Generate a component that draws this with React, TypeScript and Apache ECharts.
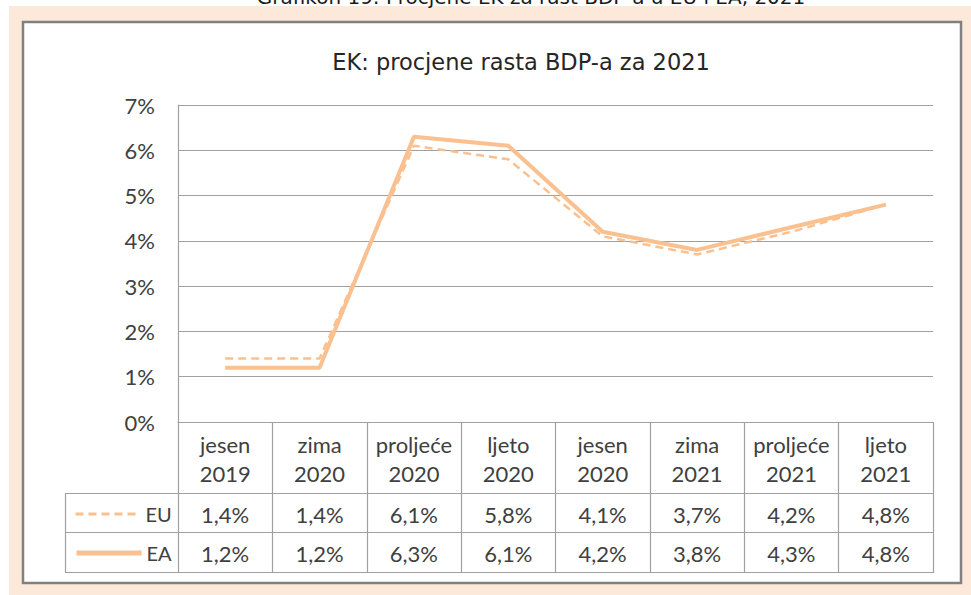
import React, { useEffect, useRef } from "react";
import * as echarts from "echarts";

const categories = [
  "jesen\n2019",
  "zima\n2020",
  "proljeće\n2020",
  "ljeto\n2020",
  "jesen\n2020",
  "zima\n2021",
  "proljeće\n2021",
  "ljeto\n2021",
];
const euValues = [1.4, 1.4, 6.1, 5.8, 4.1, 3.7, 4.2, 4.8];
const eaValues = [1.2, 1.2, 6.3, 6.1, 4.2, 3.8, 4.3, 4.8];
const seriesNames = ["EU", "EA"];
const chartTitle = "EK: procjene rasta BDP-a za 2021";
const figureTitle = "Grafikon 19: Procjene EK za rast BDP-a u EU i EA, 2021";

const fmt = (v: number) => v.toFixed(1).replace(".", ",") + "%";

const LINE = "#FAC090";
const GRID = "#A0A0A0";
const TXT = "#404040";
const FONT = "Lato";

export default function App() {
  const ref = useRef<HTMLDivElement>(null);
  useEffect(() => {
    if (!ref.current) return;
    const chart = echarts.init(ref.current, null, { renderer: "svg" });
    const tableLine = (x1: number, y1: number, x2: number, y2: number) => ({
      type: "line",
      z: -1,
      shape: { x1, y1, x2, y2 },
      style: { stroke: GRID, lineWidth: 1.2 },
    });
    const legendBase = {
      left: 74,
      padding: 0,
      itemWidth: 65,
      itemHeight: 20,
      itemStyle: { opacity: 0 },
      textStyle: { fontFamily: FONT, fontSize: 20, lineHeight: 20, color: TXT },
    };
    chart.setOption({
      animation: false,
      backgroundColor: "#ffffff",
      title: {
        text: chartTitle,
        left: 516,
        top: 45,
        textAlign: "center",
        textStyle: {
          fontFamily: "DejaVu Sans",
          fontSize: 22.5,
          fontWeight: "normal",
          color: "#262626",
        },
      },
      legend: [
        {
          ...legendBase,
          data: [seriesNames[0]],
          top: 504,
          lineStyle: { width: 3, type: [8, 5], color: LINE },
        },
        {
          ...legendBase,
          data: [seriesNames[1]],
          top: 543,
          lineStyle: { width: 5, color: LINE },
        },
      ],
      grid: { left: 178, right: 38, top: 105, bottom: 173 },
      xAxis: [
        {
          type: "category",
          data: categories,
          boundaryGap: true,
          axisLine: { show: true, lineStyle: { color: GRID, width: 1.2 } },
          axisTick: {
            show: true,
            interval: 0,
            length: 151,
            lineStyle: { color: GRID, width: 1.2 },
          },
          axisLabel: {
            interval: 0,
            margin: 8,
            fontFamily: FONT,
            fontSize: 22,
            lineHeight: 29,
            color: TXT,
          },
        },
        {
          type: "category",
          data: categories,
          position: "bottom",
          offset: 71,
          axisLine: { show: false },
          axisTick: { show: false },
          axisLabel: {
            interval: 0,
            margin: 10,
            fontFamily: FONT,
            fontSize: 22,
            lineHeight: 22,
            color: TXT,
            formatter: (_v: string, i: number) => fmt(euValues[i]),
          },
        },
        {
          type: "category",
          data: categories,
          position: "bottom",
          offset: 110,
          axisLine: { show: false },
          axisTick: { show: false },
          axisLabel: {
            interval: 0,
            margin: 10,
            fontFamily: FONT,
            fontSize: 22,
            lineHeight: 22,
            color: TXT,
            formatter: (_v: string, i: number) => fmt(eaValues[i]),
          },
        },
      ],
      yAxis: {
        type: "value",
        min: 0,
        max: 7,
        interval: 1,
        axisLine: { show: true, lineStyle: { color: GRID, width: 1.2 } },
        axisTick: { show: false },
        axisLabel: {
          margin: 23,
          fontFamily: FONT,
          fontSize: 22,
          color: TXT,
          formatter: (v: number) => v + "%",
        },
        splitLine: { show: true, lineStyle: { color: GRID, width: 1.2 } },
      },
      series: [
        {
          name: seriesNames[1],
          type: "line",
          data: eaValues,
          symbol: "none",
          lineStyle: { color: LINE, width: 4 },
          itemStyle: { color: LINE },
          z: 2,
        },
        {
          name: seriesNames[0],
          type: "line",
          data: euValues,
          symbol: "none",
          lineStyle: { color: LINE, width: 2.5, type: [8, 5] },
          itemStyle: { color: LINE },
          z: 3,
        },
      ],
      graphic: [
        {
          type: "rect",
          z: -10,
          shape: { x: 9, y: 6, width: 962, height: 589 },
          style: { fill: "#FDE9D9" },
        },
        {
          type: "rect",
          z: -9,
          shape: { x: 23, y: 22, width: 938, height: 561 },
          style: {
            fill: "#ffffff",
            stroke: "#808080",
            lineWidth: 2.5,
          },
        },
        {
          type: "text",
          z: -8,
          x: 531,
          y: -3,
          style: {
            text: figureTitle,
            fontFamily: "DejaVu Sans",
            fontSize: 20,
            fill: "#1a1a1a",
            align: "center",
            verticalAlign: "middle",
          },
        },
        tableLine(65, 493.5, 933, 493.5),
        tableLine(65, 532.5, 933, 532.5),
        tableLine(65, 572.5, 933, 572.5),
        tableLine(65.5, 493, 65.5, 573),
      ],
    });
    return () => chart.dispose();
  }, []);
  return (
    <div
      ref={ref}
      style={{ position: "fixed", left: 0, top: 0, width: 971, height: 595 }}
    />
  );
}
